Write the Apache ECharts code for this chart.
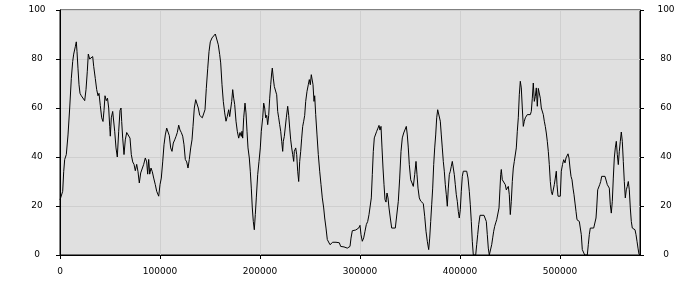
<!DOCTYPE html>
<html>
<head>
<meta charset="utf-8">
<script src="https://cdn.jsdelivr.net/npm/echarts@6/dist/echarts.min.js"></script>
<style>html,body{margin:0;padding:0;background:#fff}#c{width:700px;height:300px}</style>
</head>
<body>
<div id="c"></div>
<script>
// x tick labels / axis ranges
const xTicks = [0, 100000, 200000, 300000, 400000, 500000];
const yTicks = [0, 20, 40, 60, 80, 100];
// series: [x, value]
const trace = [
[0,22.5],[1300,23],[2700,26],[3700,34],[4700,39],[6300,41],[8000,49],[9700,60],[11300,72],[12700,79],
[13700,82],[15300,85],[16300,87],[17000,83],[18000,76],[19000,69.5],[20000,66],[21300,65],[23000,65],[24700,63],
[26000,67.5],[27300,75],[28300,82],[29700,80],[31300,80],[32700,81],[33700,77],[35300,72],[36700,67.5],[38000,65],
[39000,66],[40300,61],[41700,56],[43000,54.5],[44000,59],[45000,65],[46300,63],[47500,64],[48700,60],[49700,52.5],
[50300,48.5],[51300,56],[52700,58.6],[53700,58.6],[54700,50.5],[56000,43.7],[57300,40],[58700,50.5],[60000,59],[61000,60],
[61700,54.5],[62700,47.7],[64000,41],[65300,47],[66700,50],[68700,50],[70000,47.7],[71300,41],[72700,38],[74000,37],
[75300,34.4],[76700,37],[78000,34],[79300,29.4],[80700,33.5],[82000,33],[83700,37],[85300,39.6],[86700,38],[87700,33],
[88700,39],[89700,33],[91000,35.5],[92300,34],[93700,31.4],[95300,28.7],[96700,26],[98700,24],[100000,28.7],[101300,31.4],
[102700,38],[104000,45],[105300,49],[106700,51.8],[108000,51],[109300,48.7],[110700,43.7],[112000,42.3],[113300,45.7],[114700,47],
[116000,48.4],[117300,50],[118700,53],[120000,51],[121300,50],[122700,48.5],[124000,45],[125300,39],[126700,38],[128000,35.5],
[129300,39],[130700,43.7],[132000,47],[133000,52.5],[134300,60],[135700,63.4],[137000,63],[138300,60],[139700,57],[141000,57],
[142300,56],[143700,55.5],[145000,59.3],[146300,68],[147700,76],[149000,83],[150300,87],[152000,88.6],[153700,89.3],[155300,90.2],
[157000,90.2],[158300,85.8],[159700,81.8],[160700,78.4],[162000,69.5],[163300,62.7],[164700,58],[166000,54.6],[167300,56.6],[168700,59.3],
[169700,56.5],[170700,57],[171700,62.7],[172700,67.5],[173700,64],[174700,61.4],[176000,54.6],[177300,50.5],[178700,47.7],[180000,50],
[181300,48.4],[182000,50.5],[182700,47.7],[183700,56],[185000,62],[186000,58],[187000,50.5],[188000,43.7],[189300,39.6],[190300,34.2],
[191300,27.3],[192300,19.2],[193300,13.7],[194300,10.3],[195300,16.5],[196300,23.3],[197700,32.8],[199000,38.2],[200300,43.7],[201300,50.5],
[202700,56],[203700,62],[204700,60],[205700,56],[206700,57],[207700,53.2],[208700,57],[209700,64],[210700,69.5],[211700,74.3],
[212300,76.3],[213300,72.2],[214300,68.8],[215700,69.5],[216700,65.4],[217700,58.6],[218700,56],[219700,53.2],[220700,50.5],[221700,46.4],
[222700,42.3],[223300,46.4],[224300,48.4],[225300,49],[226300,56],[227700,60.7],[228700,57],[229700,51.8],[230700,47],[231700,43.7],
[232700,41],[233700,38.2],[234300,42.3],[235700,43.7],[236700,41],[237700,34.2],[238700,30],[239700,38.2],[240700,42.3],[241700,47.7],
[242700,52.5],[243700,54.6],[244700,57],[245700,62.7],[247000,66.8],[248300,69.5],[249300,71.6],[250300,69.5],[251300,73.6],[252000,74.3],
[253000,69.5],[254000,62.7],[254700,65],[255700,57.3],[257000,49],[258300,41],[259700,34.2],[261000,28.7],[262300,23.3],[263700,19.2],
[264700,15.1],[266000,11],[267300,6.3],[268700,5.6],[270000,4.2],[271000,5],[272700,5.2],[274300,5.2],[276000,5.2],[278000,6],
[279300,5],[280700,3.5],[282300,3.3],[284000,3.3],[285700,3.1],[287300,2.8],[288700,2.2],[290000,3.5],[291000,6.9],[292300,9.9],
[294000,10.2],[295700,10.2],[297300,10.2],[298700,11],[300000,12.1],[301000,8.3],[302300,5.6],[303700,7],[305000,9.7],[306300,12.4],
[307700,13.7],[309000,16.5],[310300,17],[311300,23.3],[312300,32.8],[313300,42.3],[314300,47.8],[315700,48.4],[316700,50.5],[318000,51.8],
[319000,52.9],[320000,51],[321000,52.5],[322000,43.7],[323000,35.5],[324000,28.7],[325000,22.6],[326000,21.6],[327000,25.3],[328000,23.3],
[329000,19.2],[330300,15.1],[331700,11],[333300,11],[335300,11],[336000,11],[337300,10.3],[338300,21.9],[339700,31.4],[341000,42.3],
[342300,47.8],[343700,49.8],[345000,50.5],[346300,52.5],[347300,49],[348300,43.7],[349300,36.9],[350700,30.7],[352000,29.4],[353300,28],
[354700,32.8],[356000,38.2],[357000,32.8],[358000,27.3],[359300,23.3],[360700,22],[362000,21.6],[363300,21],[364700,15.8],[366000,9.7],
[367300,5.6],[368700,2.2],[369700,6.9],[370700,13.7],[371700,20.5],[372700,27.3],[373700,36.9],[374700,43.7],[375700,49],[376700,56],
[377700,59.3],[379300,59.3],[380300,54.6],[381300,49],[382300,43.7],[383300,38.2],[384300,34.2],[385300,28.7],[386300,24.6],[387300,19.9],
[388300,27.3],[389300,32.8],[390300,34.2],[391300,36.2],[392300,38.2],[393300,35.5],[394300,32.8],[395300,28.7],[396300,24.6],[397300,21.9],
[398300,17.8],[399300,15.1],[400300,18.5],[401300,26],[402300,32.1],[403300,34.2],[405000,34.2],[406700,34.2],[408000,31.4],[409300,26],
[410300,20.5],[411300,13.7],[412300,5.6],[413300,0],[414700,0],[415700,0],[416700,4.2],[417700,8.3],[418700,12.4],[420000,16.2],
[422000,16.2],[424000,16.2],[425300,16.2],[426300,13.7],[427300,8.3],[428300,2.8],[429300,0],[430700,0],[431700,4.2],[432700,7],
[433700,9.7],[434700,11.7],[435700,13.1],[436700,14.4],[438000,15.1],[439000,19.2],[440000,27.3],[440700,32.8],[441300,34.9],[442300,30.7],
[443300,31.4],[444300,30],[445300,28.7],[446300,26.6],[447300,27.3],[448300,28],[449300,24.6],[450300,16.5],[451300,21.9],[452300,30],
[453300,35.5],[454300,38.2],[455300,38.9],[456300,43.7],[457300,50.5],[458300,56],[459300,65.4],[460300,70.9],[461300,68.2],[462300,60],
[463300,52.5],[464300,54.6],[465300,56],[466300,55.4],[467300,57.3],[468300,56.7],[469300,56.7],[470300,57.3],[471300,58.6],[472300,64],
[473300,70.2],[474300,62.7],[475300,64.7],[476300,68.2],[477300,60.7],[478300,68],[479300,68],[480300,64],[481300,60],[482300,59.3],
[483300,57.3],[484300,54.6],[485300,52.5],[486300,49.8],[487300,46.4],[488300,42.3],[489300,36.9],[490300,30],[491300,26],[492300,24.6],
[493300,24],[494300,28.7],[495300,31.4],[496300,34.2],[497000,28.7],[498000,24],[499300,24],[500300,24],[501300,34.2],[502500,36.9],
[503700,38.9],[505000,37.6],[506000,39.6],[507000,40.3],[508000,41.3],[509000,39.6],[510000,35.5],[511000,32.1],[512000,30.7],[513000,27.3],
[514000,24.6],[515000,21.2],[516000,17.8],[517000,14.4],[518000,13.7],[519300,13.7],[520300,13.1],[521300,8.3],[522300,2.2],[523700,2.2],
[524700,0],[526000,0],[527300,0],[528300,4.2],[529300,8.3],[530300,11],[532000,11],[533700,11],[535000,11.7],[536000,15.1],
[536700,19.2],[537700,26.6],[538700,27.3],[539700,28.7],[540700,30],[541700,32.1],[543300,32.1],[545000,32.1],[546300,31.4],[547300,28.7],
[548300,29.4],[549300,27.3],[550300,20.5],[551300,17.1],[552300,21.9],[553300,31.4],[554300,39.6],[555300,43.7],[556300,46.4],[557300,41],
[558300,36.9],[559300,42.3],[560300,46.4],[561300,50.2],[562300,46.4],[563300,38.2],[564300,30],[565300,23.3],[566300,26.6],[567300,28],
[568300,30],[569300,26.6],[570300,19.2],[571300,13.7],[572300,11],[573700,10.6],[575000,10.3],[576000,8.3],[577000,5.6],[578000,2.8],
[579000,0.3],[580000,0]
];

const font = 'DejaVu Sans';
const chart = echarts.init(document.getElementById('c'), null, {renderer: 'canvas'});
const yBase = {
  type: 'value', min: yTicks[0], max: yTicks[yTicks.length - 1], interval: yTicks[1] - yTicks[0],
  axisLine: {show: true, lineStyle: {color: '#000', width: 1}},
  axisTick: {show: true, inside: false, length: 4, lineStyle: {color: '#000'}},
  axisLabel: {color: '#000', fontFamily: font, fontSize: 9, align: 'center'}
};
chart.setOption({
  animation: false,
  backgroundColor: '#fff',
  grid: {left: 60, right: 60, top: 10, bottom: 45, show: true, backgroundColor: '#e0e0e0', borderColor: '#000', borderWidth: 1},
  xAxis: {
    type: 'value', min: xTicks[0], max: 580000, interval: xTicks[1] - xTicks[0],
    axisLine: {show: true, onZero: false, lineStyle: {color: '#000', width: 1}},
    axisTick: {show: true, inside: false, length: 4, lineStyle: {color: '#000'}},
    axisLabel: {color: '#000', fontFamily: font, fontSize: 9, margin: 12, showMaxLabel: false,
      formatter: function (v) { return String(v); }},
    splitLine: {show: true, lineStyle: {color: '#cfcfcf', width: 1}}
  },
  yAxis: [
    Object.assign({}, yBase, {position: 'left', axisLabel: Object.assign({}, yBase.axisLabel, {margin: 23}),
      splitLine: {show: true, lineStyle: {color: '#cfcfcf', width: 1}}}),
    Object.assign({}, yBase, {position: 'right', axisLabel: Object.assign({}, yBase.axisLabel, {margin: 26}),
      splitLine: {show: false}})
  ],
  series: [{
    type: 'line', data: trace, showSymbol: false, symbol: 'none',
    lineStyle: {color: '#000', width: 1}, clip: true
  }]
});
</script>
</body>
</html>
